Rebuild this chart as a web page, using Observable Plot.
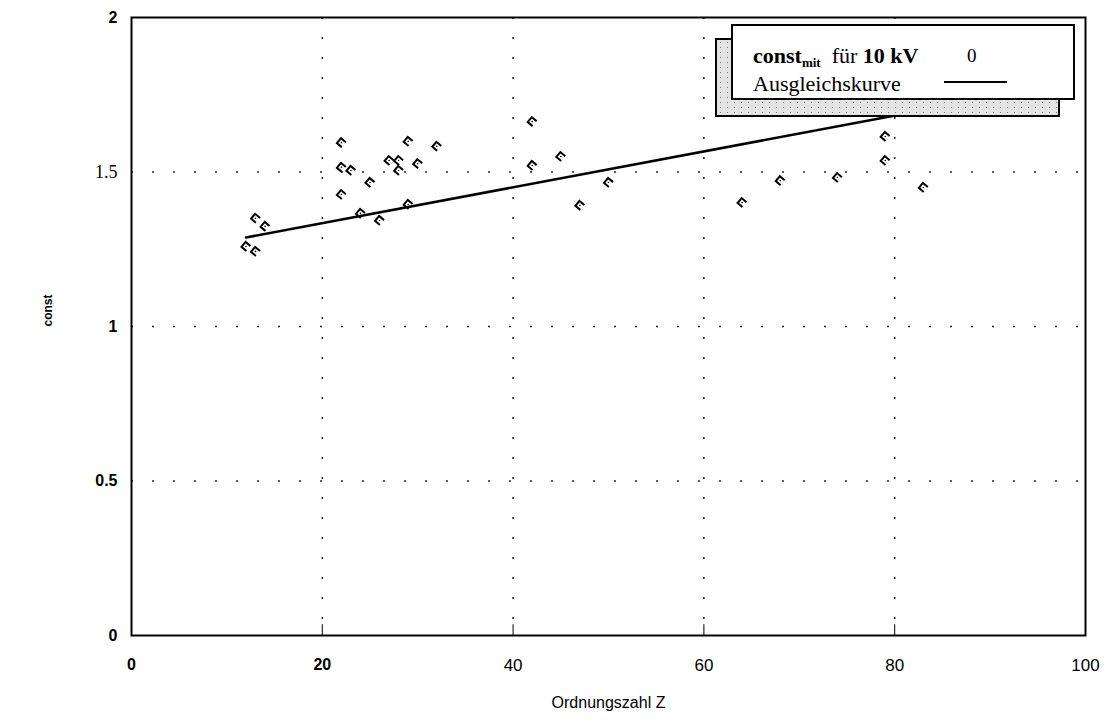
<!DOCTYPE html>
<html><head><meta charset="utf-8">
<script src="https://cdn.jsdelivr.net/npm/d3@7"></script>
<script src="https://cdn.jsdelivr.net/npm/@observablehq/plot@0.6"></script>
<style>
body{margin:0;background:#fff;}
#wrap{position:relative;width:1109px;height:728px;}
#legend-shadow{position:absolute;left:715px;top:38px;width:341px;height:75px;border:2px solid #000;background:#e4e4e4;
 background-image:radial-gradient(#777 0.8px,transparent 1px);background-size:7px 5px;}
#legend{position:absolute;left:731px;top:24px;width:340px;height:72px;border:2px solid #000;background:#fff;
 font-family:"Liberation Serif","Times New Roman",serif;font-size:22px;color:#000;line-height:1;}
#legend .r1{position:absolute;left:20px;top:19px;white-space:nowrap;}
#legend .r1 sub{font-size:13px;line-height:0;vertical-align:-4px;}
#legend .r2{position:absolute;left:20px;top:47px;white-space:nowrap;}
#legend .sym{position:absolute;left:234px;top:20px;font-size:19px;}
#legend .ln{position:absolute;left:211px;top:55px;width:63px;height:2px;background:#000;}
</style></head>
<body><div id="wrap"><div id="chart"></div>
<div id="legend-shadow"></div>
<div id="legend"><span class="r1"><b>const<sub>mit</sub></b>&nbsp; für <span style="font-weight:600">10 kV</span></span><span class="sym">0</span>
<span class="r2">Ausgleichskurve</span><span class="ln"></span></div></div>
<script>
const Z = [12,13,13,14,22,22,23,22,25,24,26,27,28,28,29,29,30,32,42,42,45,47,50,64,68,74,79,79,83];
const constMit = [1.259,1.243,1.35,1.324,1.595,1.515,1.505,1.427,1.466,1.366,1.343,1.537,1.537,1.505,1.599,1.395,1.527,1.583,1.663,1.521,1.55,1.392,1.466,1.401,1.472,1.482,1.615,1.537,1.45];
const fitZ = [12,83];
const fitConst = [1.288,1.70];
const xTicks = [0,20,40,60,80,100];
const yTicks = [0,0.5,1,1.5,2];
const gridZ = [20,40,60,80];
const gridConst = [0.5,1,1.5];

const pts = Z.map((z,i)=>({z, c:constMit[i]}));
const fit = fitZ.map((z,i)=>({z, c:fitConst[i]}));

const cSym = {draw(ctx,size){const r=Math.sqrt(size)/2; ctx.moveTo(r,-r); ctx.lineTo(-r,-r); ctx.lineTo(-r,r); ctx.lineTo(r,r);}};

const chart = Plot.plot({
  width:1109, height:728,
  marginLeft:131, marginRight:24, marginTop:17, marginBottom:93,
  style:{fontFamily:"Liberation Sans, Arial, sans-serif", background:"#fff"},
  x:{domain:[0,100]},
  y:{domain:[0,2]},
  marks:[
    Plot.ruleX(gridZ,{stroke:"#000",strokeOpacity:0.85,strokeWidth:1.6,strokeDasharray:"2 18"}),
    Plot.ruleY(gridConst,{stroke:"#000",strokeOpacity:0.85,strokeWidth:1.6,strokeDasharray:"2 19"}),
    Plot.frame({stroke:"#000",strokeWidth:2}),
    Plot.ruleX(gridZ,{y1:0, y2:0.035, stroke:"#000", strokeWidth:1}),
    Plot.axisX(xTicks,{tickSize:0,tickPadding:23,fontSize:16,fontWeight:"bold",label:null}),
    Plot.axisY(yTicks,{tickSize:0,tickPadding:14,fontSize:16,fontWeight:"bold",label:null,tickFormat:d=>String(d)}),
    Plot.text(["Ordnungszahl Z"],{frameAnchor:"bottom",dy:72,fontSize:16}),
    Plot.text(["const"],{frameAnchor:"left",dx:-83,rotate:-90,fontSize:12,fontWeight:"bold"}),
    Plot.line(fit,{x:"z",y:"c",stroke:"#000",strokeWidth:2.5}),
    Plot.dot(pts,{x:"z",y:"c",symbol:cSym,r:3.6,stroke:"#000",strokeWidth:2,fill:"none",rotate:40}),
    Plot.dot(pts,{x:"z",y:"c",r:0.8,fill:"#000"})
  ]
});
document.getElementById("chart").append(chart);
// mixed typefaces on tick labels as in the reference
d3.select(chart).selectAll("[aria-label='y-axis tick label'] text").each(function(){
  if (this.textContent==="1.5") d3.select(this).attr("font-family","Liberation Serif, Times New Roman, serif").attr("font-weight","normal").attr("font-size",18);
});
d3.select(chart).selectAll("[aria-label='x-axis tick label'] text").each(function(){
  const t=this.textContent;
  if (["40","60","80","100"].includes(t)) d3.select(this).attr("font-weight","normal").attr("font-family","Liberation Sans Narrow, Arial, sans-serif").attr("font-size",17);
});
</script></body></html>
